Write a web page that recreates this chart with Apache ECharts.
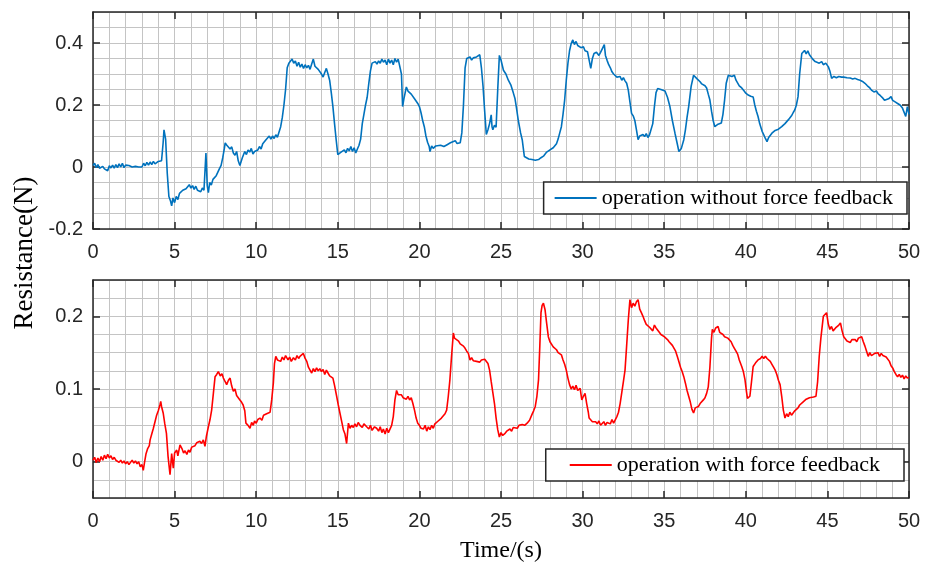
<!DOCTYPE html>
<html>
<head>
<meta charset="utf-8">
<script src="https://cdn.jsdelivr.net/npm/echarts@6/dist/echarts.min.js"></script>
<style>
  html, body { margin: 0; padding: 0; background: #fff; }
  #chart { width: 935px; height: 563px; }
</style>
</head>
<body>
<div id="chart"></div>
<script>
  // time (s) / resistance (N)
  const withoutFeedback = [[0,0.005],[0.1,0.012],[0.2,-0.002],[0.3,0.008],[0.4,-0.004],[0.5,-0.008],[0.6,0.002],[0.7,-0.006],[0.8,-0.002],[0.9,-0.012],[1.0,0.004],[1.1,-0.003],[1.2,0.006],[1.3,-0.004],[1.4,0.008],[1.5,-0.002],[1.6,0.01],[1.7,0.0],[1.8,0.012],[1.9,-0.002],[2.0,0.006],[2.1,0.0],[2.2,0.005],[2.4,0.0],[2.6,0.002],[2.8,0.0],[2.9,0.003],[3.0,0.0],[3.1,0.012],[3.2,0.004],[3.3,0.015],[3.4,0.006],[3.5,0.016],[3.6,0.008],[3.7,0.018],[3.8,0.01],[3.9,0.014],[4.0,0.018],[4.1,0.012],[4.2,0.02],[4.3,0.08],[4.35,0.12],[4.45,0.09],[4.55,-0.02],[4.65,-0.095],[4.75,-0.11],[4.82,-0.125],[4.9,-0.1],[5.0,-0.115],[5.1,-0.095],[5.2,-0.105],[5.3,-0.085],[5.4,-0.09],[5.5,-0.075],[5.6,-0.08],[5.7,-0.07],[5.8,-0.075],[5.9,-0.057],[6.0,-0.068],[6.1,-0.06],[6.2,-0.072],[6.3,-0.062],[6.4,-0.075],[6.5,-0.07],[6.6,-0.08],[6.7,-0.068],[6.8,-0.075],[6.92,0.045],[7.0,-0.06],[7.07,-0.083],[7.15,-0.05],[7.25,-0.058],[7.35,-0.04],[7.45,-0.045],[7.55,-0.028],[7.65,-0.03],[7.75,-0.005],[7.85,0.005],[7.95,0.03],[8.05,0.06],[8.1,0.078],[8.2,0.07],[8.3,0.072],[8.4,0.058],[8.5,0.065],[8.6,0.045],[8.7,0.038],[8.8,0.05],[8.9,0.02],[9.0,0.005],[9.05,0.0],[9.15,0.03],[9.3,0.05],[9.4,0.04],[9.5,0.055],[9.6,0.048],[9.7,0.06],[9.8,0.042],[9.9,0.05],[10.0,0.045],[10.1,0.055],[10.2,0.066],[10.3,0.058],[10.4,0.075],[10.5,0.07],[10.6,0.088],[10.7,0.082],[10.8,0.1],[10.9,0.09],[11.0,0.1],[11.1,0.092],[11.2,0.104],[11.3,0.096],[11.4,0.1],[11.5,0.13],[11.6,0.16],[11.7,0.2],[11.8,0.25],[11.9,0.32],[12.0,0.335],[12.1,0.33],[12.2,0.348],[12.3,0.335],[12.4,0.342],[12.5,0.325],[12.6,0.338],[12.7,0.322],[12.8,0.332],[12.9,0.318],[13.0,0.33],[13.1,0.32],[13.2,0.328],[13.3,0.315],[13.4,0.332],[13.5,0.348],[13.6,0.325],[13.7,0.33],[13.8,0.315],[13.9,0.31],[14.0,0.3],[14.1,0.29],[14.2,0.305],[14.3,0.318],[14.4,0.3],[14.5,0.28],[14.6,0.24],[14.7,0.195],[14.8,0.14],[14.9,0.088],[15.0,0.04],[15.1,0.045],[15.2,0.048],[15.3,0.05],[15.4,0.055],[15.5,0.046],[15.6,0.06],[15.7,0.052],[15.8,0.066],[15.9,0.05],[16.0,0.062],[16.1,0.045],[16.2,0.058],[16.3,0.07],[16.4,0.09],[16.5,0.14],[16.6,0.17],[16.7,0.2],[16.8,0.225],[16.9,0.27],[17.0,0.31],[17.1,0.335],[17.2,0.33],[17.3,0.34],[17.4,0.332],[17.5,0.342],[17.6,0.335],[17.7,0.348],[17.8,0.338],[17.9,0.345],[18.0,0.33],[18.1,0.348],[18.2,0.335],[18.3,0.345],[18.4,0.33],[18.5,0.35],[18.6,0.338],[18.7,0.348],[18.8,0.352],[18.9,0.3],[18.97,0.195],[19.05,0.22],[19.2,0.258],[19.3,0.245],[19.4,0.25],[19.5,0.235],[19.6,0.23],[19.7,0.22],[19.8,0.215],[19.9,0.205],[20.0,0.195],[20.1,0.175],[20.2,0.15],[20.3,0.13],[20.4,0.1],[20.5,0.08],[20.6,0.066],[20.65,0.05],[20.75,0.068],[20.85,0.06],[21.0,0.068],[21.1,0.062],[21.3,0.07],[21.5,0.066],[21.7,0.072],[21.9,0.078],[22.0,0.075],[22.2,0.085],[22.3,0.076],[22.4,0.082],[22.5,0.078],[22.6,0.11],[22.7,0.2],[22.8,0.32],[22.9,0.35],[23.0,0.345],[23.1,0.355],[23.2,0.345],[23.3,0.352],[23.4,0.348],[23.5,0.355],[23.6,0.35],[23.7,0.362],[23.8,0.32],[23.9,0.26],[24.0,0.18],[24.1,0.105],[24.2,0.12],[24.3,0.14],[24.4,0.168],[24.45,0.13],[24.5,0.12],[24.6,0.135],[24.7,0.128],[24.8,0.25],[24.9,0.36],[25.0,0.345],[25.15,0.312],[25.3,0.3],[25.45,0.28],[25.6,0.265],[25.75,0.24],[25.86,0.22],[25.95,0.19],[26.06,0.15],[26.2,0.11],[26.3,0.088],[26.43,0.034],[26.55,0.03],[26.7,0.026],[26.8,0.032],[26.9,0.024],[27.0,0.03],[27.1,0.022],[27.2,0.028],[27.3,0.024],[27.45,0.03],[27.6,0.035],[27.7,0.04],[27.8,0.048],[27.9,0.045],[28.0,0.055],[28.1,0.05],[28.2,0.062],[28.3,0.06],[28.4,0.075],[28.5,0.09],[28.6,0.11],[28.7,0.13],[28.8,0.17],[28.9,0.216],[29.0,0.28],[29.1,0.334],[29.2,0.375],[29.3,0.398],[29.4,0.41],[29.5,0.395],[29.6,0.405],[29.7,0.392],[29.8,0.398],[29.9,0.385],[30.05,0.388],[30.15,0.375],[30.3,0.372],[30.4,0.366],[30.5,0.318],[30.6,0.35],[30.7,0.366],[30.85,0.37],[31.0,0.36],[31.1,0.37],[31.2,0.375],[31.33,0.395],[31.4,0.36],[31.5,0.344],[31.6,0.33],[31.7,0.32],[31.8,0.307],[31.9,0.3],[32.0,0.298],[32.1,0.29],[32.2,0.286],[32.3,0.292],[32.4,0.28],[32.5,0.288],[32.6,0.278],[32.7,0.27],[32.8,0.248],[32.9,0.21],[33.0,0.173],[33.1,0.165],[33.2,0.15],[33.3,0.12],[33.4,0.088],[33.5,0.1],[33.6,0.095],[33.7,0.105],[33.8,0.098],[33.9,0.108],[34.0,0.095],[34.1,0.104],[34.2,0.098],[34.3,0.14],[34.4,0.195],[34.5,0.24],[34.6,0.253],[34.7,0.255],[34.8,0.25],[34.9,0.252],[35.05,0.245],[35.2,0.225],[35.35,0.195],[35.5,0.15],[35.66,0.109],[35.8,0.075],[35.9,0.05],[35.97,0.045],[36.05,0.06],[36.2,0.088],[36.3,0.12],[36.4,0.16],[36.5,0.195],[36.65,0.26],[36.8,0.296],[36.9,0.29],[37.0,0.285],[37.1,0.28],[37.2,0.275],[37.3,0.268],[37.4,0.27],[37.5,0.262],[37.6,0.255],[37.7,0.235],[37.8,0.216],[37.9,0.18],[38.0,0.15],[38.1,0.13],[38.2,0.132],[38.3,0.138],[38.4,0.136],[38.5,0.142],[38.6,0.17],[38.7,0.216],[38.8,0.27],[38.93,0.296],[39.05,0.3],[39.15,0.292],[39.3,0.296],[39.4,0.28],[39.5,0.275],[39.6,0.262],[39.75,0.255],[39.9,0.245],[40.0,0.238],[40.15,0.232],[40.3,0.228],[40.45,0.226],[40.55,0.2],[40.65,0.18],[40.75,0.163],[40.85,0.14],[41.0,0.115],[41.1,0.104],[41.2,0.092],[41.3,0.082],[41.4,0.095],[41.5,0.1],[41.6,0.109],[41.7,0.112],[41.8,0.118],[41.9,0.115],[42.0,0.122],[42.1,0.125],[42.2,0.13],[42.3,0.135],[42.4,0.14],[42.5,0.145],[42.6,0.152],[42.7,0.158],[42.8,0.165],[42.9,0.175],[43.0,0.184],[43.1,0.2],[43.2,0.227],[43.3,0.3],[43.43,0.366],[43.5,0.372],[43.6,0.376],[43.7,0.365],[43.8,0.375],[43.9,0.362],[44.0,0.366],[44.1,0.348],[44.25,0.34],[44.35,0.345],[44.5,0.335],[44.65,0.34],[44.75,0.33],[44.9,0.335],[45.06,0.323],[45.15,0.31],[45.26,0.286],[45.4,0.292],[45.55,0.288],[45.7,0.292],[45.87,0.29],[46.0,0.29],[46.2,0.288],[46.4,0.287],[46.55,0.284],[46.7,0.286],[46.85,0.282],[47.0,0.28],[47.15,0.276],[47.3,0.27],[47.45,0.262],[47.6,0.255],[47.7,0.248],[47.85,0.242],[48.0,0.245],[48.1,0.237],[48.25,0.23],[48.4,0.222],[48.5,0.215],[48.6,0.21],[48.75,0.22],[48.9,0.227],[49.0,0.215],[49.15,0.21],[49.3,0.205],[49.45,0.2],[49.6,0.19],[49.7,0.184],[49.8,0.163],[49.9,0.195],[50.0,0.17]];

  const withFeedback = [[0,0.002],[0.1,0.006],[0.2,-0.001],[0.3,0.005],[0.4,0.0],[0.5,0.007],[0.6,0.002],[0.7,0.009],[0.8,0.004],[0.9,0.01],[1.0,0.005],[1.1,0.008],[1.2,0.003],[1.3,0.006],[1.4,0.002],[1.5,0.004],[1.6,-0.001],[1.7,0.002],[1.8,-0.002],[1.9,0.001],[2.0,-0.003],[2.1,0.0],[2.2,-0.004],[2.3,-0.001],[2.4,0.002],[2.5,-0.002],[2.6,0.001],[2.7,-0.003],[2.8,0.0],[2.9,-0.007],[3.0,-0.004],[3.08,-0.012],[3.15,-0.002],[3.25,0.011],[3.35,0.018],[3.45,0.022],[3.5,0.03],[3.6,0.038],[3.7,0.046],[3.8,0.055],[3.9,0.064],[4.0,0.07],[4.1,0.078],[4.15,0.083],[4.2,0.076],[4.3,0.067],[4.4,0.052],[4.5,0.039],[4.6,0.007],[4.72,-0.018],[4.82,0.011],[4.92,-0.009],[5.0,0.012],[5.13,0.016],[5.2,0.008],[5.33,0.023],[5.45,0.018],[5.55,0.012],[5.64,0.015],[5.75,0.01],[5.85,0.016],[5.94,0.013],[6.05,0.02],[6.15,0.018],[6.25,0.022],[6.35,0.026],[6.45,0.024],[6.55,0.028],[6.65,0.025],[6.76,0.03],[6.86,0.021],[6.95,0.035],[7.07,0.048],[7.17,0.058],[7.27,0.071],[7.38,0.095],[7.48,0.117],[7.58,0.12],[7.68,0.124],[7.8,0.118],[7.9,0.121],[7.99,0.115],[8.1,0.11],[8.19,0.106],[8.3,0.112],[8.4,0.115],[8.5,0.104],[8.6,0.097],[8.7,0.1],[8.8,0.091],[8.9,0.09],[9.0,0.085],[9.1,0.082],[9.2,0.078],[9.3,0.07],[9.37,0.053],[9.5,0.05],[9.62,0.046],[9.72,0.054],[9.82,0.05],[9.9,0.056],[10.0,0.053],[10.1,0.058],[10.23,0.06],[10.35,0.057],[10.45,0.064],[10.55,0.062],[10.64,0.066],[10.75,0.064],[10.85,0.068],[10.95,0.085],[11.05,0.108],[11.12,0.135],[11.2,0.145],[11.3,0.14],[11.4,0.142],[11.5,0.138],[11.6,0.144],[11.7,0.14],[11.8,0.146],[11.87,0.148],[11.95,0.14],[12.05,0.144],[12.15,0.138],[12.28,0.143],[12.4,0.14],[12.5,0.146],[12.6,0.142],[12.68,0.145],[12.8,0.143],[12.89,0.149],[13.0,0.142],[13.1,0.138],[13.2,0.13],[13.3,0.126],[13.4,0.122],[13.5,0.128],[13.6,0.124],[13.7,0.129],[13.8,0.125],[13.9,0.128],[14.0,0.124],[14.1,0.127],[14.2,0.12],[14.3,0.126],[14.4,0.122],[14.5,0.118],[14.6,0.12],[14.7,0.115],[14.8,0.105],[14.93,0.09],[15.03,0.078],[15.13,0.067],[15.24,0.055],[15.34,0.044],[15.44,0.038],[15.54,0.025],[15.65,0.053],[15.75,0.046],[15.85,0.05],[15.95,0.047],[16.05,0.052],[16.15,0.048],[16.25,0.054],[16.36,0.05],[16.5,0.047],[16.6,0.052],[16.77,0.048],[16.9,0.045],[17.0,0.05],[17.1,0.043],[17.25,0.048],[17.38,0.046],[17.5,0.042],[17.6,0.048],[17.7,0.04],[17.79,0.045],[17.9,0.038],[18.0,0.046],[18.1,0.04],[18.2,0.039],[18.3,0.05],[18.4,0.062],[18.5,0.085],[18.6,0.098],[18.7,0.092],[18.8,0.09],[18.9,0.092],[19.0,0.088],[19.1,0.09],[19.2,0.086],[19.3,0.09],[19.4,0.085],[19.5,0.088],[19.6,0.08],[19.7,0.071],[19.8,0.06],[19.9,0.053],[20.0,0.05],[20.1,0.046],[20.25,0.045],[20.35,0.05],[20.45,0.042],[20.55,0.048],[20.65,0.044],[20.75,0.05],[20.85,0.046],[20.95,0.052],[21.06,0.05],[21.15,0.056],[21.25,0.054],[21.35,0.06],[21.47,0.062],[21.57,0.066],[21.67,0.071],[21.77,0.09],[21.87,0.113],[21.97,0.145],[22.08,0.177],[22.15,0.17],[22.25,0.172],[22.4,0.166],[22.5,0.162],[22.6,0.164],[22.7,0.159],[22.8,0.156],[22.9,0.152],[23.0,0.149],[23.1,0.14],[23.2,0.143],[23.3,0.139],[23.4,0.141],[23.5,0.138],[23.6,0.14],[23.7,0.137],[23.8,0.14],[23.9,0.138],[24.0,0.141],[24.1,0.143],[24.2,0.135],[24.3,0.126],[24.4,0.11],[24.5,0.095],[24.6,0.08],[24.7,0.06],[24.8,0.044],[24.9,0.034],[25.0,0.04],[25.1,0.036],[25.25,0.039],[25.35,0.042],[25.45,0.04],[25.55,0.045],[25.65,0.042],[25.75,0.047],[25.86,0.048],[26.0,0.046],[26.1,0.05],[26.2,0.048],[26.3,0.051],[26.45,0.05],[26.6,0.053],[26.75,0.057],[26.9,0.065],[27.0,0.07],[27.1,0.076],[27.2,0.09],[27.3,0.113],[27.38,0.16],[27.45,0.205],[27.52,0.215],[27.6,0.218],[27.7,0.209],[27.8,0.19],[27.9,0.172],[28.0,0.165],[28.1,0.163],[28.2,0.158],[28.3,0.16],[28.4,0.154],[28.5,0.15],[28.6,0.152],[28.7,0.147],[28.8,0.14],[28.9,0.134],[29.0,0.126],[29.1,0.115],[29.2,0.106],[29.3,0.1],[29.4,0.104],[29.5,0.099],[29.6,0.105],[29.7,0.098],[29.85,0.101],[29.95,0.085],[30.05,0.09],[30.15,0.094],[30.25,0.08],[30.35,0.068],[30.4,0.06],[30.5,0.058],[30.6,0.055],[30.7,0.057],[30.8,0.055],[30.9,0.052],[31.0,0.056],[31.1,0.05],[31.2,0.051],[31.3,0.055],[31.4,0.05],[31.5,0.054],[31.6,0.055],[31.7,0.052],[31.8,0.058],[31.9,0.053],[32.0,0.053],[32.1,0.062],[32.2,0.068],[32.3,0.08],[32.4,0.095],[32.5,0.11],[32.6,0.126],[32.7,0.16],[32.8,0.195],[32.9,0.223],[33.0,0.212],[33.1,0.218],[33.2,0.214],[33.3,0.22],[33.4,0.223],[33.5,0.21],[33.6,0.205],[33.7,0.2],[33.8,0.194],[33.9,0.189],[34.0,0.19],[34.1,0.185],[34.2,0.186],[34.3,0.18],[34.4,0.188],[34.5,0.184],[34.6,0.182],[34.7,0.178],[34.8,0.175],[34.9,0.176],[35.0,0.172],[35.1,0.17],[35.2,0.168],[35.3,0.165],[35.4,0.163],[35.5,0.16],[35.6,0.159],[35.7,0.152],[35.8,0.145],[35.87,0.14],[36.0,0.13],[36.1,0.124],[36.2,0.117],[36.3,0.108],[36.4,0.098],[36.5,0.09],[36.6,0.082],[36.7,0.072],[36.8,0.067],[36.9,0.074],[37.0,0.072],[37.1,0.076],[37.2,0.08],[37.3,0.078],[37.4,0.085],[37.5,0.088],[37.6,0.094],[37.7,0.103],[37.8,0.13],[37.9,0.17],[37.95,0.182],[38.05,0.178],[38.15,0.184],[38.3,0.186],[38.4,0.178],[38.5,0.18],[38.6,0.175],[38.7,0.172],[38.8,0.174],[38.9,0.17],[39.0,0.168],[39.1,0.165],[39.2,0.16],[39.3,0.156],[39.4,0.152],[39.5,0.148],[39.6,0.14],[39.75,0.131],[39.85,0.124],[39.95,0.113],[40.05,0.095],[40.1,0.087],[40.25,0.09],[40.35,0.11],[40.45,0.131],[40.6,0.136],[40.75,0.14],[40.9,0.142],[41.0,0.145],[41.1,0.142],[41.2,0.145],[41.3,0.142],[41.4,0.14],[41.5,0.138],[41.6,0.134],[41.7,0.13],[41.8,0.126],[41.9,0.12],[42.0,0.112],[42.1,0.106],[42.2,0.09],[42.3,0.071],[42.4,0.06],[42.5,0.066],[42.6,0.062],[42.7,0.068],[42.8,0.064],[42.9,0.067],[43.0,0.07],[43.1,0.072],[43.2,0.074],[43.3,0.078],[43.4,0.076],[43.5,0.082],[43.6,0.083],[43.7,0.086],[43.8,0.084],[43.9,0.088],[44.0,0.09],[44.15,0.089],[44.3,0.09],[44.4,0.11],[44.5,0.145],[44.6,0.17],[44.75,0.2],[44.85,0.198],[44.95,0.205],[45.05,0.19],[45.15,0.182],[45.25,0.186],[45.35,0.18],[45.5,0.184],[45.6,0.186],[45.7,0.188],[45.8,0.191],[45.9,0.18],[46.0,0.172],[46.1,0.17],[46.2,0.166],[46.3,0.168],[46.4,0.164],[46.5,0.168],[46.6,0.166],[46.7,0.168],[46.8,0.165],[46.9,0.17],[47.0,0.168],[47.1,0.172],[47.2,0.165],[47.3,0.159],[47.4,0.152],[47.5,0.145],[47.6,0.15],[47.7,0.146],[47.8,0.148],[47.9,0.149],[48.0,0.147],[48.1,0.15],[48.2,0.145],[48.3,0.149],[48.4,0.146],[48.5,0.148],[48.6,0.144],[48.7,0.145],[48.8,0.138],[48.9,0.132],[49.0,0.129],[49.1,0.124],[49.2,0.12],[49.3,0.117],[49.4,0.12],[49.5,0.116],[49.6,0.119],[49.7,0.114],[49.8,0.118],[49.9,0.115],[50.0,0.116]];

  const topTicks = [-0.2, 0, 0.2, 0.4];
  const bottomTicks = [0, 0.1, 0.2];

  const axisColor = '#262626';
  const gridColor = '#c4c4c4';
  const sans = 'Liberation Sans, Arial, sans-serif';
  const serif = 'Liberation Serif, Times New Roman, serif';

  // visible time axis (labels) + top box edge + 1 s grid lines
  function timeAxes(gridIndex) {
    const tick = { show: true, inside: true, length: 7, lineStyle: { color: axisColor, width: 1.5 } };
    const line = { show: true, onZero: false, lineStyle: { color: axisColor, width: 1.5 } };
    return [
      {
        type: 'value', gridIndex, position: 'bottom', min: 0, max: 50, interval: 5,
        axisLine: line, axisTick: tick, splitLine: { show: false },
        axisLabel: { color: axisColor, fontFamily: sans, fontSize: 20, margin: 13 },
      },
      {
        type: 'value', gridIndex, position: 'top', min: 0, max: 50, interval: 5,
        axisLine: line, axisTick: tick, splitLine: { show: false }, axisLabel: { show: false },
      },
      {
        type: 'value', gridIndex, position: 'bottom', min: 0, max: 50, interval: 1,
        axisLine: { show: false, onZero: false }, axisTick: { show: false }, axisLabel: { show: false },
        splitLine: { show: true, lineStyle: { color: gridColor, width: 1 } },
      },
    ];
  }

  function forceAxes(gridIndex, min, max, ticks, step) {
    const tick = { show: true, inside: true, length: 7, customValues: ticks, lineStyle: { color: axisColor, width: 1.5 } };
    const line = { show: true, onZero: false, lineStyle: { color: axisColor, width: 1.5 } };
    return [
      {
        type: 'value', gridIndex, position: 'left', min, max,
        axisLine: line, axisTick: tick, splitLine: { show: false },
        axisLabel: { customValues: ticks, color: axisColor, fontFamily: sans, fontSize: 20, margin: 10 },
      },
      {
        type: 'value', gridIndex, position: 'right', min, max,
        axisLine: line, axisTick: tick, splitLine: { show: false }, axisLabel: { show: false },
      },
      {
        type: 'value', gridIndex, position: 'left', min, max, interval: step,
        axisLine: { show: false, onZero: false }, axisTick: { show: false }, axisLabel: { show: false },
        splitLine: { show: true, lineStyle: { color: gridColor, width: 1 } },
      },
    ];
  }

  function legendBox(name, top, right, padding) {
    return {
      data: [name], right, top, padding,
      icon: 'rect', itemWidth: 42, itemHeight: 2,
      backgroundColor: '#fff', borderColor: axisColor, borderWidth: 1.5, borderRadius: 0,
      textStyle: { fontFamily: serif, fontSize: 22, color: '#000' },
      selectedMode: false,
    };
  }

  const chart = echarts.init(document.getElementById('chart'));
  chart.setOption({
    animation: false,
    backgroundColor: '#fff',
    grid: [
      { left: 93, right: 26, top: 12, height: 217 },
      { left: 93, right: 26, top: 280, height: 218 },
    ],
    xAxis: [...timeAxes(0), ...timeAxes(1)],
    yAxis: [...forceAxes(0, -0.2, 0.5, topTicks, 0.05), ...forceAxes(1, -0.05, 0.25, bottomTicks, 0.025)],
    legend: [
      legendBox('operation without force feedback', 182, 28, [5, 14, 5, 11]),
      legendBox('operation with force feedback', 449, 31, [5, 24, 5, 24]),
    ],
    graphic: [
      {
        type: 'text', x: 25, y: 253, rotation: Math.PI / 2,
        style: { text: 'Resistance(N)', font: '27px ' + serif, fill: '#000', textAlign: 'center', textVerticalAlign: 'middle' },
      },
      {
        type: 'text', x: 501, y: 551,
        style: { text: 'Time/(s)', font: '24px ' + serif, fill: '#000', textAlign: 'center', textVerticalAlign: 'middle' },
      },
    ],
    series: [
      {
        name: 'operation without force feedback', type: 'line',
        xAxisIndex: 0, yAxisIndex: 0, data: withoutFeedback,
        symbol: 'none', color: '#0072BD', lineStyle: { width: 1.6, color: '#0072BD' },
      },
      {
        name: 'operation with force feedback', type: 'line',
        xAxisIndex: 3, yAxisIndex: 3, data: withFeedback,
        symbol: 'none', color: '#FF0000', lineStyle: { width: 1.6, color: '#FF0000' },
      },
    ],
  });
</script>
</body>
</html>
